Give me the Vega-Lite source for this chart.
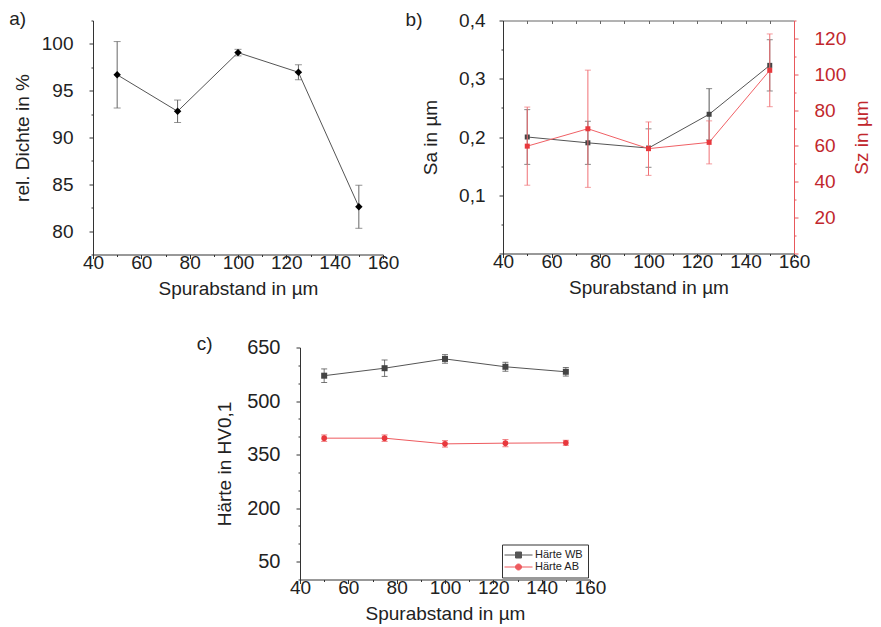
{
 "$schema": "https://vega.github.io/schema/vega-lite/v6.json",
 "padding": {"left": 9, "top": 9.5, "right": 5, "bottom": 5},
 "background": "white",
 "datasets": {
  "a": [
   {"x": 50, "v": 96.7, "e": 3.55},
   {"x": 75, "v": 92.8, "e": 1.2},
   {"x": 100, "v": 99.07, "e": 0.35},
   {"x": 125, "v": 96.97, "e": 0.8},
   {"x": 150, "v": 82.6, "e": 2.3}
  ],
  "b": [
   {"x": 50, "sa": 0.200, "esa": 0.047, "sz": 59.9, "esz": 21.8},
   {"x": 75, "sa": 0.190, "esa": 0.037, "sz": 69.6, "esz": 32.7},
   {"x": 100, "sa": 0.181, "esa": 0.033, "sz": 58.5, "esz": 14.9},
   {"x": 125, "sa": 0.239, "esa": 0.044, "sz": 62.0, "esz": 12.0},
   {"x": 150, "sa": 0.323, "esa": 0.044, "sz": 102.2, "esz": 20.3}
  ],
  "c": [
   {"x": 50, "series": "Härte WB", "v": 571, "e": 19},
   {"x": 75, "series": "Härte WB", "v": 592, "e": 23},
   {"x": 100, "series": "Härte WB", "v": 618, "e": 12},
   {"x": 125, "series": "Härte WB", "v": 596, "e": 12.5},
   {"x": 150, "series": "Härte WB", "v": 582, "e": 12},
   {"x": 50, "series": "Härte AB", "v": 396, "e": 9},
   {"x": 75, "series": "Härte AB", "v": 396, "e": 9},
   {"x": 100, "series": "Härte AB", "v": 380, "e": 9},
   {"x": 125, "series": "Härte AB", "v": 382, "e": 10},
   {"x": 150, "series": "Härte AB", "v": 383, "e": 7}
  ],
  "empty": []
 },
 "vconcat": [
  {
   "hconcat": [
    {
     "width": 290, "height": 234,
     "title": {"text": "a)", "anchor": "start", "frame": "bounds", "dx": -4, "offset": -32, "baseline": "alphabetic"},
     "data": {"name": "a"},
     "encoding": {
      "x": {"field": "x", "type": "quantitative", "scale": {"domain": [40, 160], "nice": false, "zero": false},
       "axis": {"title": "Spurabstand in µm", "values": [40,50,60,70,80,90,100,110,120,130,140,150,160],
        "labelExpr": "datum.value % 20 == 0 ? datum.label : ''",
        "tickSize": {"condition": {"test": "datum.value % 20 != 0", "value": 2}, "value": 4},
        "labelPadding": -5, "titlePadding": 7}},
      "y": {"field": "v", "type": "quantitative", "scale": {"domain": [77.5, 102.5], "nice": false, "zero": false},
       "axis": {"title": "rel. Dichte in %", "values": [77.5,80,82.5,85,87.5,90,92.5,95,97.5,100,102.5],
        "labelExpr": "datum.value % 5 == 0 ? format(datum.value, 'd') : ''",
        "tickSize": {"condition": {"test": "datum.value % 5 != 0", "value": 2}, "value": 4},
        "labelPadding": 16, "titlePadding": 9}}
     },
     "layer": [
      {"mark": {"type": "errorbar", "ticks": {"size": 7}, "color": "#666666"}, "encoding": {"yError": {"field": "e"}}},
      {"mark": {"type": "line", "color": "#555555", "strokeWidth": 1}, "encoding": {}},
      {"mark": {"type": "point", "shape": "diamond", "filled": true, "color": "#000000", "size": 55, "opacity": 1}, "encoding": {}}
     ]
    },
    {
     "width": 291, "height": 233,
     "title": {"text": "b)", "anchor": "start", "frame": "bounds", "dx": -16, "offset": -33, "baseline": "alphabetic"},
     "data": {"name": "b"},
     "layer": [
      {
       "encoding": {
        "x": {"field": "x", "type": "quantitative", "scale": {"domain": [40, 160], "nice": false, "zero": false},
         "axis": {"title": "Spurabstand in µm", "values": [40,50,60,70,80,90,100,110,120,130,140,150,160],
          "labelExpr": "datum.value % 20 == 0 ? datum.label : ''",
          "tickSize": {"condition": {"test": "datum.value % 20 != 0", "value": 2}, "value": 4},
          "labelPadding": -5, "titlePadding": 7}},
        "y": {"field": "sa", "type": "quantitative", "scale": {"domain": [0, 0.4], "nice": false, "zero": false},
         "axis": {"title": "Sa in µm", "values": [0,0.05,0.1,0.15,0.2,0.25,0.3,0.35,0.4],
          "labelExpr": "datum.value > 0.01 && round(datum.value*100) % 10 == 0 ? replace(format(datum.value, '.1f'), '.', ',') : ''",
          "tickSize": {"condition": {"test": "round(datum.value*100) % 10 != 0", "value": 2}, "value": 4},
          "labelPadding": 14, "titlePadding": 18}}
       },
       "layer": [
        {"mark": {"type": "errorbar", "ticks": {"size": 6}, "color": "#555555"}, "encoding": {"yError": {"field": "esa"}}},
        {"mark": {"type": "line", "color": "#555555", "strokeWidth": 1}, "encoding": {}},
        {"mark": {"type": "point", "shape": "square", "filled": true, "color": "#444444", "size": 25, "opacity": 1}, "encoding": {}}
       ]
      },
      {
       "encoding": {
        "x": {"field": "x", "type": "quantitative", "scale": {"domain": [40, 160], "nice": false, "zero": false},
         "axis": {"orient": "top", "title": null, "labels": false, "values": [40,50,60,70,80,90,100,110,120,130,140,150,160],
          "tickSize": -3, "domainColor": "#666666", "tickColor": "#666666"}},
        "y": {"field": "sz", "type": "quantitative", "scale": {"domain": [0, 130], "nice": false, "zero": false},
         "axis": {"orient": "right", "title": "Sz in µm", "titleAngle": 270, "titleBaseline": "top", "values": [0,10,20,30,40,50,60,70,80,90,100,110,120,130],
          "labelExpr": "datum.value > 0 && datum.value % 20 == 0 ? datum.label : ''",
          "tickSize": {"condition": {"test": "datum.value % 20 != 0", "value": 2}, "value": 4},
          "labelPadding": 16, "titlePadding": 7,
          "domainColor": "#e8585c", "tickColor": "#e8585c", "labelColor": "#c1272d", "titleColor": "#c1272d"}}
       },
       "layer": [
        {"mark": {"type": "errorbar", "ticks": {"size": 6}, "color": "#f07075"}, "encoding": {"yError": {"field": "esz"}}},
        {"mark": {"type": "line", "color": "#f06065", "strokeWidth": 1}, "encoding": {}},
        {"mark": {"type": "point", "shape": "square", "filled": true, "color": "#e8383d", "size": 25, "opacity": 1}, "encoding": {}}
       ]
      }
     ],
     "resolve": {"scale": {"y": "independent"}, "axis": {"x": "independent"}}
    }
   ],
   "spacing": 6
  },
  {
   "hconcat": [
    {
     "width": 83, "height": 1,
     "data": {"name": "empty"},
     "mark": {"type": "point", "opacity": 0},
     "encoding": {}
    },
    {
     "width": 290, "height": 232,
     "title": {"text": "c)", "anchor": "start", "frame": "bounds", "dx": -19, "offset": -31, "baseline": "alphabetic"},
     "data": {"name": "c"},
     "encoding": {
      "x": {"field": "x", "type": "quantitative", "scale": {"domain": [40, 160], "nice": false, "zero": false},
       "axis": {"title": "Spurabstand in µm", "values": [40,50,60,70,80,90,100,110,120,130,140,150,160],
        "labelExpr": "datum.value % 20 == 0 ? datum.label : ''",
        "tickSize": {"condition": {"test": "datum.value % 20 != 0", "value": 2}, "value": 4},
        "labelPadding": -5, "titlePadding": 7}},
      "y": {"field": "v", "type": "quantitative", "scale": {"domain": [0, 650], "nice": false, "zero": false},
       "axis": {"title": "Härte in HV0,1", "values": [0,50,100,150,200,250,300,350,400,450,500,550,600,650],
        "labelExpr": "datum.value % 150 == 50 ? datum.label : ''",
        "tickSize": {"condition": {"test": "datum.value % 150 != 50", "value": 2}, "value": 4},
        "labelFontSize": 20, "labelPadding": 16, "titlePadding": 12}}
     },
     "layer": [
      {"mark": {"type": "errorbar", "ticks": {"size": 6}, "opacity": 0.8},
       "encoding": {"yError": {"field": "e"},
        "color": {"field": "series", "type": "nominal", "scale": {"domain": ["Härte WB", "Härte AB"], "range": ["#555555", "#ee5a5e"]}}}},
      {"mark": {"type": "line", "strokeWidth": 1},
       "encoding": {"color": {"field": "series", "type": "nominal", "scale": {"domain": ["Härte WB", "Härte AB"], "range": ["#555555", "#ee5a5e"]},
        "legend": {"title": null, "orient": "bottom-right", "offset": 2, "strokeColor": "#333333", "fillColor": "white", "padding": 5,
         "labelFontSize": 11, "labelFont": "Liberation Sans", "labelColor": "#222222", "symbolSize": 100, "rowPadding": 0,
         "labelOffset": 11, "symbolOffset": 6,
         "encode": {"symbols": {"update": {
          "fill": {"signal": "datum.value == 'Härte WB' ? '#444444' : '#e8383d'"},
          "stroke": {"signal": "datum.value == 'Härte WB' ? '#444444' : '#e8383d'"},
          "shape": {"signal": "datum.value == 'Härte WB' ? 'M-2.8,0H2.8M-0.6,-0.6H0.6V0.6H-0.6Z' : 'M-2.8,0H2.8M0.6,0A0.6,0.6,0,1,1,-0.6,0A0.6,0.6,0,1,1,0.6,0Z'"},
          "opacity": {"value": 1}, "strokeWidth": {"value": 1}}}}}}}},
      {"transform": [{"filter": "datum.series == 'Härte WB'"}],
       "mark": {"type": "point", "shape": "square", "filled": true, "color": "#444444", "size": 36, "opacity": 1}, "encoding": {}},
      {"transform": [{"filter": "datum.series == 'Härte AB'"}],
       "mark": {"type": "point", "shape": "circle", "filled": true, "color": "#e8383d", "size": 32, "opacity": 1}, "encoding": {}}
     ]
    }
   ],
   "spacing": 20,
   "resolve": {"scale": {"color": "independent"}, "legend": {"color": "independent"}}
  }
 ],
 "spacing": 36,
 "resolve": {"scale": {"color": "independent"}, "legend": {"color": "independent"}},
 "config": {
  "font": "Liberation Sans",
  "view": {"stroke": null},
  "title": {"font": "Liberation Sans", "fontSize": 19, "fontWeight": "normal", "color": "#222222"},
  "axis": {"labelFont": "Liberation Sans", "titleFont": "Liberation Sans", "labelFontSize": 19, "titleFontSize": 19,
   "titleFontWeight": "normal", "labelColor": "#222222", "titleColor": "#222222", "domainColor": "#333333", "tickColor": "#333333",
   "grid": false, "labelFlush": false, "labelOverlap": false}
 }
}
